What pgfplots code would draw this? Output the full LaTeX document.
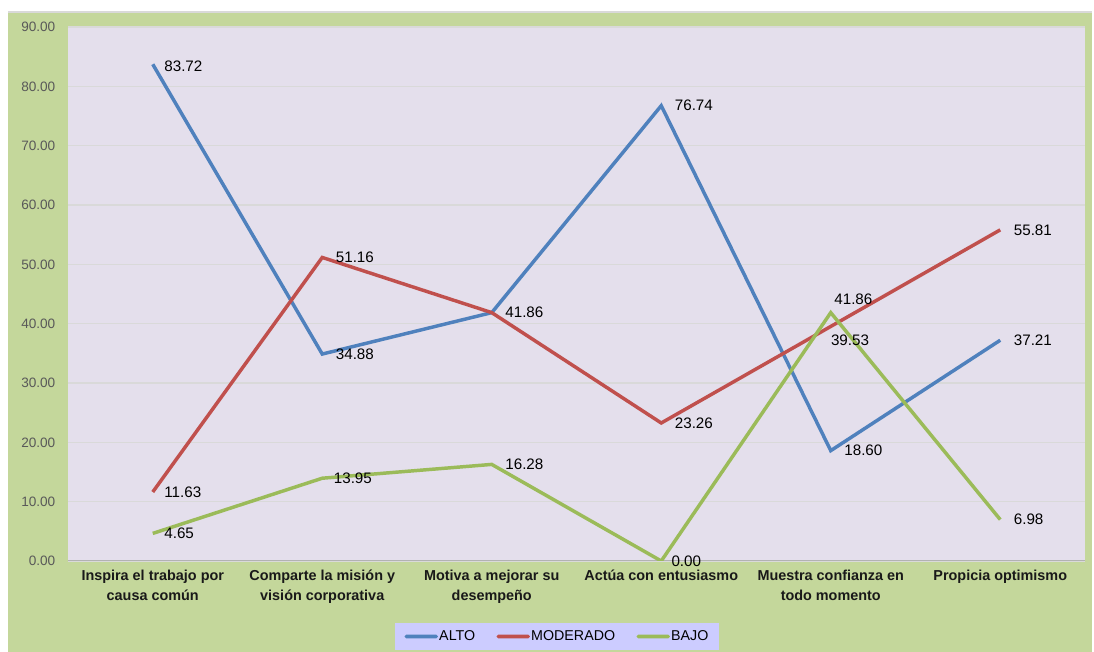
\documentclass[border=0pt]{standalone}
\usepackage{pgfplots}
\pgfplotsset{compat=1.18}
\usepackage{fontspec}
\setmainfont{Liberation Sans}
\definecolor{bgGreen}{RGB}{196,215,155}
\definecolor{plotLav}{RGB}{228,223,236}
\definecolor{legLav}{RGB}{204,204,255}
\definecolor{cAlto}{RGB}{79,129,189}
\definecolor{cMod}{RGB}{192,80,77}
\definecolor{cBajo}{RGB}{155,187,89}
\definecolor{gridG}{RGB}{217,217,217}
\definecolor{tickG}{RGB}{89,89,89}
\pgfplotsset{
  mylegline/.style={legend image code/.code={\fill[##1, draw=none, rounded corners=1.2pt] (0pt,-1.35pt) rectangle (25pt,1.35pt);}},
}

\begin{document}
\begin{tikzpicture}
\useasboundingbox (0,0) rectangle (820.5pt,489pt);
\fill[white] (0,0) rectangle (820.5pt,489pt);
\fill[bgGreen] (6pt,0pt) rectangle (819pt,480pt);
\draw[gridG, line width=1.2pt] (6pt,480pt) -- (819pt,480pt);
\begin{axis}[
  at={(51pt,68.25pt)}, anchor=south west,
  scale only axis, width=762.75pt, height=400.5pt,
  xmin=-0.5, xmax=5.5, ymin=0, ymax=90,
  axis background/.style={fill=plotLav},
  axis line style={draw=none},
  major tick length=0pt,
  ytick={0,10,...,90},
  ymajorgrids, grid style={gridG, line width=0.8pt},
  xtick={0,1,2,3,4,5},
  xticklabels={{Inspira el trabajo por\\causa común},{Comparte la misión y\\visión corporativa},{Motiva a mejorar su\\desempeño},{Actúa con entusiasmo},{Muestra confianza en\\todo momento},{Propicia optimismo}},
  xticklabel style={align=center, font=\fontsize{10.8}{15}\selectfont\bfseries, text=black!90, yshift=-3pt},
  /pgf/number format/assume math mode=true,
  yticklabel style={font=\fontsize{10.2}{12}\selectfont, text=tickG, xshift=-6pt, /pgf/number format/.cd, fixed, fixed zerofill, precision=2},
  lbl/.style={draw=none, mark=none, forget plot,
    nodes near coords={\pgfmathprintnumber[fixed,fixed zerofill,precision=2]{\pgfplotspointmeta}},
    every node near coord/.append style={anchor=west, inner sep=0pt, font=\fontsize{11.4}{13}\selectfont, text=black, #1}},
  lbl/.default={xshift=10pt},
  legend columns=3,
  legend style={at={(0.481,-0.1414)}, anchor=center, fill=legLav, draw=none, font=\fontsize{10.7}{12}\selectfont, inner xsep=7pt, inner ysep=4pt, nodes={inner xsep=1pt}, /tikz/every even column/.append style={column sep=15pt}},
]
\draw[black!30, line width=0.9pt] (axis cs:-0.5,0) -- (axis cs:5.5,0);
\addplot[cAlto, line width=2.6pt, mark=none, mylegline] coordinates {(0,83.72) (1,34.88) (2,41.86) (3,76.74) (4,18.60) (5,37.21)};
\addlegendentry{ALTO}
\addplot[cMod, line width=2.6pt, mark=none, mylegline] coordinates {(0,11.63) (1,51.16) (2,41.86) (3,23.26) (4,39.53) (5,55.81)};
\addlegendentry{MODERADO}
\addplot[cBajo, line width=2.6pt, mark=none, mylegline] coordinates {(0,4.65) (1,13.95) (2,16.28) (3,0.00) (4,41.86) (5,6.98)};
\addlegendentry{BAJO}
% data labels
\addplot[lbl={xshift=8.5pt, yshift=-1.5pt}] coordinates {(0,83.72)};
\addplot[lbl] coordinates {(1,34.88) (2,41.86) (3,76.74) (4,18.60) (5,37.21)};
\addplot[lbl={xshift=8.5pt}] coordinates {(0,11.63)};
\addplot[lbl] coordinates {(1,51.16) (3,23.26) (5,55.81)};
\addplot[lbl={xshift=0pt, yshift=-10pt}] coordinates {(4,39.53)};
\addplot[lbl={xshift=8.5pt}] coordinates {(0,4.65) (1,13.95)};
\addplot[lbl] coordinates {(2,16.28)};
\addplot[lbl={xshift=7.5pt}] coordinates {(3,0.00)};
\addplot[lbl={xshift=2.5pt, yshift=9.75pt}] coordinates {(4,41.86)};
\addplot[lbl] coordinates {(5,6.98)};
\end{axis}
\end{tikzpicture}
\end{document}
